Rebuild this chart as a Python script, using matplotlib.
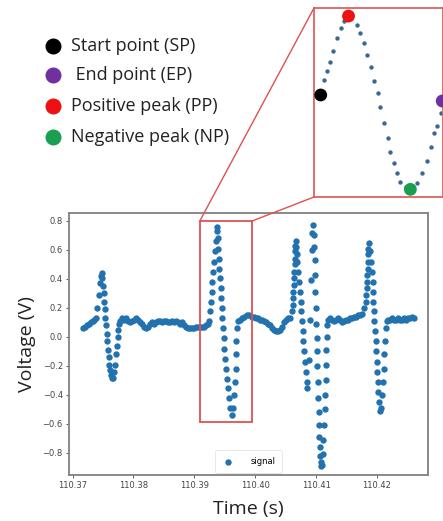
import matplotlib
matplotlib.use("Agg")
import matplotlib.pyplot as plt
from matplotlib.lines import Line2D
from matplotlib.patches import Rectangle, ConnectionPatch
from matplotlib.ticker import FormatStrFormatter

# ---------------- data ----------------
# beat 1 (small spike) + following baseline
t_beat1 = [110.37169, 110.37202, 110.37235, 110.37268, 110.37301, 110.37334, 110.37359, 110.37383,
           110.37408, 110.37433, 110.37449, 110.37465, 110.37477,
           110.37490, 110.37498, 110.37507, 110.37515, 110.37526, 110.37536, 110.37548, 110.37559,
           110.37569, 110.37581, 110.37592, 110.37605, 110.37618, 110.37633, 110.37650, 110.37668,
           110.37687, 110.37704, 110.37717, 110.37729, 110.37740, 110.37750, 110.37761, 110.37778,
           110.37811, 110.37844, 110.37877, 110.37910, 110.37942, 110.37975, 110.38008, 110.38041,
           110.38074, 110.38107, 110.38140, 110.38173, 110.38206, 110.38238, 110.38271, 110.38304,
           110.38337, 110.38370, 110.38403, 110.38436, 110.38469, 110.38502, 110.38535, 110.38567,
           110.38600, 110.38633, 110.38666, 110.38699, 110.38732, 110.38765, 110.38798, 110.38831,
           110.38863, 110.38896, 110.38929, 110.38962, 110.38995, 110.39028, 110.39061, 110.39094,
           110.39127, 110.39160, 110.39192, 110.39225]
v_beat1 = [0.06, 0.07, 0.08, 0.09, 0.10, 0.11, 0.12, 0.13,
           0.20, 0.29, 0.37, 0.42, 0.44,
           0.41, 0.35, 0.30, 0.24, 0.19, 0.13, 0.08, 0.02,
           -0.03, -0.09, -0.14, -0.19, -0.23, -0.26, -0.28, -0.28,
           -0.24, -0.19, -0.12, -0.06, 0.00, 0.05, 0.09, 0.11,
           0.13, 0.12, 0.13, 0.11, 0.10, 0.11, 0.12, 0.13,
           0.12, 0.10, 0.09, 0.07, 0.06, 0.07, 0.09, 0.10,
           0.09, 0.10, 0.11, 0.11, 0.10, 0.11, 0.11, 0.10,
           0.10, 0.11, 0.10, 0.11, 0.10, 0.09, 0.10, 0.08,
           0.07, 0.06, 0.06, 0.06, 0.06, 0.07, 0.07, 0.07,
           0.07, 0.07, 0.08, 0.09]

# beat 2 (the zoomed one) + baseline
t_beat2 = [110.39242, 110.39258, 110.39270, 110.39286, 110.39296, 110.39312, 110.39324, 110.39340,
           110.39352, 110.39368, 110.39378,
           110.39385, 110.39395, 110.39406, 110.39411, 110.39423, 110.39434, 110.39444, 110.39451,
           110.39460, 110.39472, 110.39483, 110.39493, 110.39505, 110.39521, 110.39538, 110.39554,
           110.39571, 110.39587, 110.39615,
           110.39641, 110.39658, 110.39669, 110.39681, 110.39686, 110.39691, 110.39702, 110.39724,
           110.39752, 110.39784, 110.39817, 110.39862, 110.39900, 110.39944,
           110.39982, 110.40015, 110.40048, 110.40080, 110.40113, 110.40146, 110.40179, 110.40212,
           110.40245, 110.40278, 110.40311, 110.40344, 110.40377, 110.40409, 110.40442, 110.40475,
           110.40508, 110.40541]
v_beat2 = [0.11, 0.18, 0.24, 0.31, 0.38, 0.45, 0.52, 0.59,
           0.66, 0.73, 0.76,
           0.68, 0.61, 0.54, 0.47, 0.41, 0.34, 0.27, 0.20,
           0.13, 0.06, -0.01, -0.08, -0.15, -0.22, -0.29, -0.35,
           -0.42, -0.49, -0.54,
           -0.49, -0.40, -0.31, -0.22, -0.12, -0.03, 0.06, 0.11,
           0.12, 0.13, 0.14, 0.15, 0.15, 0.14,
           0.14, 0.13, 0.13, 0.12, 0.12, 0.11, 0.10, 0.09,
           0.08, 0.06, 0.05, 0.04, 0.04, 0.05, 0.07, 0.10,
           0.12, 0.13]

# beat 3 (double spike) + baseline
t_beat3 = [110.40574, 110.40599, 110.40615, 110.40623, 110.40628, 110.40633, 110.40638, 110.40643,
           110.40648, 110.40651, 110.40656, 110.40661, 110.40666,
           110.40676, 110.40684, 110.40694, 110.40710, 110.40722, 110.40738, 110.40750, 110.40760,
           110.40771, 110.40783, 110.40793, 110.40804, 110.40821, 110.40837, 110.40849, 110.40858,
           110.40878, 110.40895, 110.40911, 110.40928, 110.40941, 110.40952,
           110.40960, 110.40969, 110.40975, 110.40982, 110.40988, 110.40995, 110.41002, 110.41008,
           110.41015, 110.41021, 110.41028, 110.41034, 110.41041, 110.41048, 110.41054, 110.41061,
           110.41067, 110.41076, 110.41084,
           110.41095, 110.41108, 110.41122, 110.41133, 110.41141, 110.41150, 110.41158, 110.41166,
           110.41171, 110.41178, 110.41187, 110.41204, 110.41232,
           110.41265, 110.41298, 110.41331, 110.41363, 110.41396, 110.41429, 110.41462, 110.41495,
           110.41528, 110.41561, 110.41594, 110.41627, 110.41659, 110.41692, 110.41725]
v_beat3 = [0.13, 0.18, 0.22, 0.27, 0.31, 0.36, 0.41, 0.45,
           0.50, 0.54, 0.59, 0.63, 0.66,
           0.62, 0.57, 0.52, 0.45, 0.38, 0.31, 0.24, 0.18,
           0.11, 0.04, -0.03, -0.10, -0.17, -0.24, -0.31, -0.35,
           -0.16, 0.12, 0.39, 0.60, 0.72, 0.77,
           0.70, 0.62, 0.53, 0.43, 0.31, 0.20, 0.09, -0.01,
           -0.10, -0.20, -0.31, -0.42, -0.52, -0.61, -0.69, -0.76,
           -0.82, -0.86, -0.89,
           -0.88, -0.81, -0.71, -0.61, -0.50, -0.40, -0.30, -0.19,
           -0.09, 0.00, 0.08, 0.12, 0.13,
           0.12, 0.11, 0.12, 0.13, 0.12, 0.10, 0.11, 0.12,
           0.12, 0.13, 0.13, 0.14, 0.14, 0.15, 0.15]

# beat 4 + final baseline
t_beat4 = [110.41758, 110.41796, 110.41819, 110.41824, 110.41835, 110.41839, 110.41845, 110.41850,
           110.41855, 110.41858, 110.41862, 110.41867,
           110.41890, 110.41906, 110.41918, 110.41928, 110.41934, 110.41944, 110.41955, 110.41960,
           110.41972, 110.41983, 110.41988, 110.42000, 110.42010, 110.42016, 110.42026, 110.42038,
           110.42049,
           110.42071, 110.42092, 110.42108, 110.42120, 110.42125, 110.42136, 110.42148, 110.42164,
           110.42186,
           110.42219, 110.42252, 110.42284, 110.42317, 110.42350, 110.42383, 110.42416, 110.42449,
           110.42482, 110.42515, 110.42548, 110.42581, 110.42605]
v_beat4 = [0.16, 0.20, 0.24, 0.29, 0.34, 0.38, 0.43, 0.47,
           0.52, 0.57, 0.61, 0.65,
           0.59, 0.52, 0.45, 0.38, 0.31, 0.24, 0.18, 0.11,
           0.04, -0.03, -0.10, -0.17, -0.24, -0.31, -0.38, -0.45,
           -0.51,
           -0.49, -0.40, -0.31, -0.22, -0.12, -0.03, 0.06, 0.11,
           0.12,
           0.12, 0.13, 0.12, 0.12, 0.13, 0.12, 0.12, 0.13,
           0.12, 0.13, 0.13, 0.14, 0.13]

# zoomed cycle shown in the inset
inset_t = [110.39157, 110.39175, 110.39198, 110.39220, 110.39247, 110.39269, 110.39292,
           110.39381, 110.39399, 110.39426, 110.39448, 110.39471, 110.39493, 110.39515, 110.39534,
           110.39556, 110.39583, 110.39601, 110.39628, 110.39646, 110.39668, 110.39708,
           110.39780, 110.39814, 110.39843, 110.39870, 110.39892, 110.39915, 110.39937]
inset_v = [0.273, 0.339, 0.402, 0.485, 0.578, 0.651, 0.705,
           0.676, 0.619, 0.541, 0.456, 0.370, 0.265, 0.175, 0.077,
           -0.044, -0.150, -0.252, -0.337, -0.410, -0.472, -0.509,
           -0.484, -0.410, -0.318, -0.216, -0.118, -0.064, 0.029]

# characteristic points
key_labels = ["Start point (SP)", " End point (EP)", "Positive peak (PP)", "Negative peak (NP)"]
key_colors = ["#000000", "#7030a0", "#ee1111", "#1a9e50"]
key_t = [110.39135, 110.39948, 110.39321, 110.39735]
key_v = [0.163, 0.119, 0.741, -0.528]

# zoom window
zoom_t = [110.3909, 110.3995]
zoom_v = [-0.584, 0.80]

x_ticks = [110.37, 110.38, 110.39, 110.40, 110.41, 110.42]
y_ticks = [-0.8, -0.6, -0.4, -0.2, 0.0, 0.2, 0.4, 0.6, 0.8]

# ---------------- figure ----------------
W, H = 443, 521
fig = plt.figure(figsize=(W / 100, H / 100), dpi=100)
label_font = ["Open Sans", "DejaVu Sans"]

ax = fig.add_axes([69 / W, 1 - 475 / H, 359 / W, 262 / H])
t_all = t_beat1 + t_beat2 + t_beat3 + t_beat4
v_all = v_beat1 + v_beat2 + v_beat3 + v_beat4
ax.scatter(t_all, v_all, s=21, color="#2372b0", linewidths=0, label="signal", zorder=3)
ax.set_xlim(110.3694, 110.4284)
ax.set_ylim(-0.952, 0.855)
ax.set_xticks(x_ticks)
ax.set_yticks(y_ticks)
ax.xaxis.set_major_formatter(FormatStrFormatter("%.2f"))
ax.tick_params(labelsize=6, length=2.5, width=0.6, colors="#444444", pad=2)
for sp in ax.spines.values():
    sp.set_color("#808080")
    sp.set_linewidth(1.3)
ax.set_xlabel("Time (s)", fontsize=14, family=label_font, color="#222222", labelpad=7)
ax.set_ylabel("Voltage (V)", fontsize=14, family=label_font, color="#222222", labelpad=5)
leg = ax.legend(loc="lower center", fontsize=6, frameon=True, borderaxespad=0.3,
                borderpad=0.8, handletextpad=1.8, handlelength=1.6)
leg.get_frame().set_edgecolor("#dddddd")
leg.get_frame().set_linewidth(0.6)

# zoom rectangle
rect = Rectangle((zoom_t[0], zoom_v[0]), zoom_t[1] - zoom_t[0], zoom_v[1] - zoom_v[0],
                 fill=False, edgecolor="#e05050", linewidth=1.3, zorder=4)
ax.add_patch(rect)

# inset
axins = fig.add_axes([314 / W, 1 - 197 / H, 128.5 / W, 189 / H])
axins.scatter(inset_t, inset_v, s=10, color="#3b6890", linewidths=0, zorder=2)
axins.scatter(key_t, key_v, s=85, c=key_colors, linewidths=0, zorder=3)
axins.set_xlim(zoom_t)
axins.set_ylim(zoom_v)
axins.set_xticks([])
axins.set_yticks([])
for sp in axins.spines.values():
    sp.set_color("#e06060")
    sp.set_linewidth(1.3)

# connector lines
for (xa, ya), (xb, yb) in [((zoom_t[0], zoom_v[1]), (0, 1)), ((zoom_t[1], zoom_v[1]), (0, 0))]:
    con = ConnectionPatch(xyA=(xa, ya), coordsA="data", axesA=ax,
                          xyB=(xb, yb), coordsB="axes fraction", axesB=axins,
                          color="#e05050", linewidth=1.0)
    fig.add_artist(con)

# key legend (top-left)
row_y = [46, 75, 106, 137]
for lab, col, yy in zip(key_labels, key_colors, row_y):
    fig.add_artist(Line2D([53 / W], [1 - yy / H], transform=fig.transFigure, marker="o",
                          markersize=10.5, color=col, linestyle="none"))
    fig.text(71 / W, 1 - yy / H, lab, fontsize=13, family=label_font, color="#222222",
             va="center", ha="left")

fig.savefig("out.png", dpi=100)
